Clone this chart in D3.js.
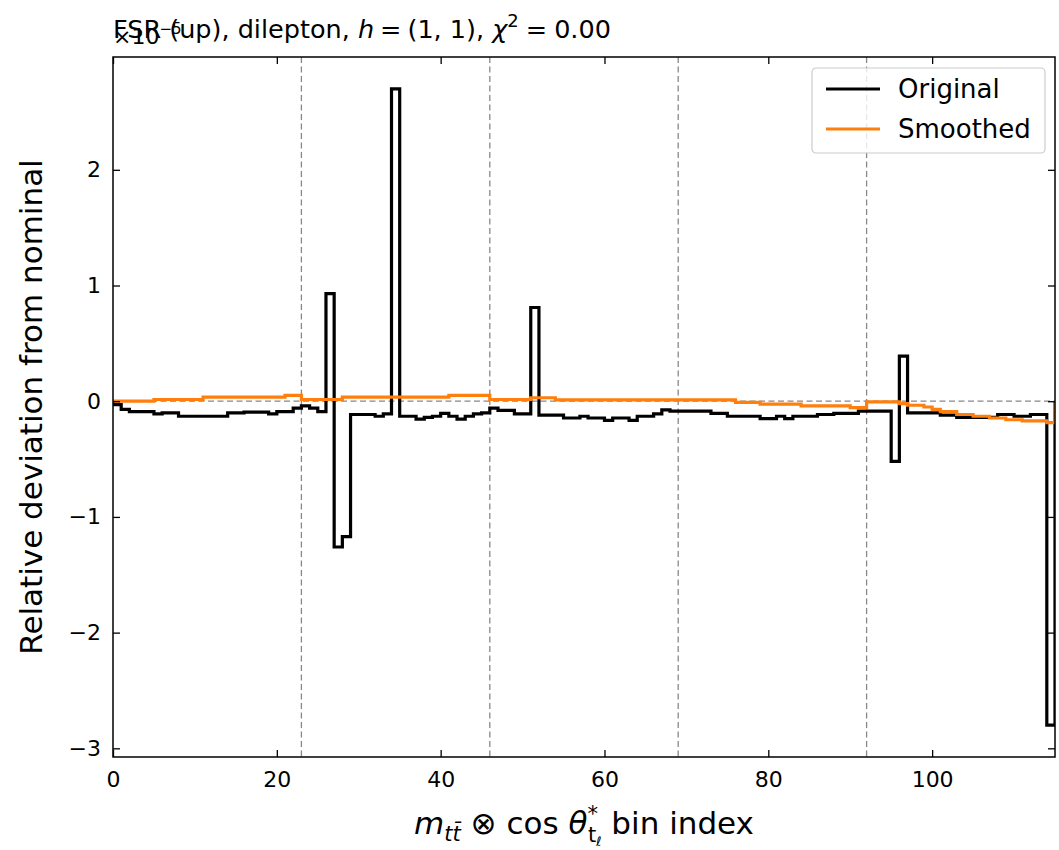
<!DOCTYPE html>
<html>
<head>
<meta charset="utf-8">
<script src="https://cdn.jsdelivr.net/npm/d3@7/dist/d3.min.js"></script>
<style>
  body { margin: 0; background: #fff; }
  svg { font-family: "DejaVu Sans", sans-serif; }
</style>
</head>
<body>
<svg id="chart" width="1059" height="850"></svg>
<script>
// bin values (units of the x10 offset)
var original = [
  -0.03, -0.07, -0.09, -0.09, -0.09, -0.11, -0.10, -0.10, -0.13, -0.13,
  -0.13, -0.13, -0.13, -0.13, -0.10, -0.10, -0.095, -0.095, -0.095, -0.11,
  -0.09, -0.09, -0.06, -0.04, -0.06, -0.09, 0.93, -1.26, -1.17, -0.115,
  -0.115, -0.115, -0.13, -0.11, 2.70, -0.13, -0.13, -0.155, -0.14, -0.13,
  -0.105, -0.13, -0.155, -0.13, -0.11, -0.10, -0.06, -0.08, -0.08, -0.11,
  -0.11, 0.81, -0.12, -0.12, -0.12, -0.145, -0.145, -0.13, -0.145, -0.145,
  -0.165, -0.145, -0.145, -0.165, -0.13, -0.13, -0.11, -0.075, -0.085, -0.085,
  -0.085, -0.085, -0.085, -0.105, -0.105, -0.13, -0.13, -0.13, -0.13, -0.15,
  -0.15, -0.13, -0.15, -0.13, -0.13, -0.13, -0.115, -0.115, -0.105, -0.105,
  -0.105, -0.085, -0.085, -0.085, -0.085, -0.52, 0.39, -0.10, -0.10, -0.10,
  -0.10, -0.12, -0.12, -0.14, -0.14, -0.14, -0.14, -0.14, -0.115, -0.115,
  -0.13, -0.13, -0.115, -0.115, -2.80
];
var smoothed = [
  0.0, 0.0, 0.0, 0.0, 0.0, 0.015, 0.015, 0.015, 0.015, 0.015,
  0.015, 0.035, 0.035, 0.035, 0.035, 0.035, 0.035, 0.035, 0.035, 0.035,
  0.035, 0.05, 0.05, 0.015, 0.015, 0.015, 0.015, 0.015, 0.035, 0.035,
  0.035, 0.035, 0.035, 0.035, 0.035, 0.035, 0.035, 0.035, 0.035, 0.035,
  0.035, 0.05, 0.05, 0.05, 0.05, 0.05, 0.015, 0.015, 0.015, 0.015,
  0.015, 0.03, 0.03, 0.03, 0.012, 0.012, 0.012, 0.012, 0.012, 0.012,
  0.012, 0.012, 0.012, 0.012, 0.012, 0.012, 0.012, 0.012, 0.012, 0.012,
  0.012, 0.012, 0.012, 0.012, 0.012, 0.012, -0.01, -0.01, -0.01, -0.025,
  -0.025, -0.025, -0.025, -0.025, -0.04, -0.04, -0.04, -0.04, -0.04, -0.04,
  -0.055, -0.055, -0.005, -0.005, -0.005, -0.005, -0.02, -0.035, -0.035, -0.05,
  -0.07, -0.09, -0.09, -0.115, -0.115, -0.13, -0.13, -0.145, -0.145, -0.16,
  -0.16, -0.17, -0.17, -0.17, -0.185
];
var groupEdges = [23, 46, 69, 92];
var xTicks = [0, 20, 40, 60, 80, 100];
var yTicks = [-3, -2, -1, 0, 1, 2];
var seriesNames = ["Original", "Smoothed"];
var seriesColors = ["#000000", "#ff7f0e"];

var svg = d3.select("#chart");
// plot box ("top" is taken by window, so short names here)
var pL = 113, pR = 1055, pT = 57, pB = 757;

var nBins = original.length;
var x = d3.scaleLinear().domain([0, nBins]).range([pL, pR]);

// y limits like matplotlib: data range plus 5% margins
var all = original.concat(smoothed);
var lo = d3.min(all), hi = d3.max(all), pad = (hi - lo) * 0.05;
var y = d3.scaleLinear().domain([lo - pad, hi + pad]).range([pB, pT]);

svg.append("clipPath").attr("id", "clip")
  .append("rect").attr("x", pL).attr("y", pT)
  .attr("width", pR - pL).attr("height", pB - pT);

var plot = svg.append("g").attr("clip-path", "url(#clip)");

// zero line and group separators
plot.append("line")
  .attr("x1", pL).attr("x2", pR)
  .attr("y1", y(0)).attr("y2", y(0))
  .attr("stroke", "#888").attr("stroke-width", 1.3).attr("stroke-dasharray", "6,3.5");

plot.selectAll(".sep").data(groupEdges).enter().append("line")
  .attr("x1", function(d) { return x(d); }).attr("x2", function(d) { return x(d); })
  .attr("y1", pT).attr("y2", pB)
  .attr("stroke", "#888").attr("stroke-width", 1.3).attr("stroke-dasharray", "6,3.5");

// step outline: starts and ends on zero
function stepPoints(vals) {
  var pts = [[0, 0]];
  vals.forEach(function(v, i) { pts.push([i, v]); });
  pts.push([vals.length, 0]);
  return pts;
}
var line = d3.line()
  .x(function(d) { return x(d[0]); })
  .y(function(d) { return y(d[1]); })
  .curve(d3.curveStepAfter);

[original, smoothed].forEach(function(vals, k) {
  plot.append("path")
    .attr("d", line(stepPoints(vals)))
    .attr("fill", "none")
    .attr("stroke", seriesColors[k])
    .attr("stroke-width", 3.2)
    .attr("stroke-linejoin", "miter");
});

// axes, ticks pointing inwards on all four sides
function styleAxis(g) {
  g.attr("font-size", 22).attr("font-family", "DejaVu Sans");
  g.selectAll("path.domain").remove();
  g.selectAll("line").attr("stroke", "#000").attr("stroke-width", 1.3);
  g.selectAll("text").attr("fill", "#000");
}
var fmt = function(d) { return d < 0 ? "\u2212" + Math.abs(d) : d; };

svg.append("g").attr("transform", "translate(0," + pB + ")")
  .call(d3.axisBottom(x).tickValues(xTicks).tickSizeInner(-7).tickSizeOuter(0).tickPadding(14))
  .call(styleAxis);
svg.append("g").attr("transform", "translate(0," + pT + ")")
  .call(d3.axisTop(x).tickValues(xTicks).tickSizeInner(-7).tickSizeOuter(0).tickFormat(""))
  .call(styleAxis);
svg.append("g").attr("transform", "translate(" + pL + ",0)")
  .call(d3.axisLeft(y).tickValues(yTicks).tickSizeInner(-7).tickSizeOuter(0).tickPadding(12).tickFormat(fmt))
  .call(styleAxis);
svg.append("g").attr("transform", "translate(" + pR + ",0)")
  .call(d3.axisRight(y).tickValues(yTicks).tickSizeInner(-7).tickSizeOuter(0).tickFormat(""))
  .call(styleAxis);

svg.append("rect")
  .attr("x", pL).attr("y", pT)
  .attr("width", pR - pL).attr("height", pB - pT)
  .attr("fill", "none").attr("stroke", "#000").attr("stroke-width", 1.5);

// title and offset text (they overlap in the original)
var title = svg.append("text").attr("x", pL).attr("y", 38)
  .attr("font-size", 25.5).attr("fill", "#000");
title.append("tspan").text("FSR (up), dilepton, ");
title.append("tspan").attr("font-style", "italic").text("h");
title.append("tspan").attr("dx", 6).text("=");
title.append("tspan").attr("dx", 6).text("(1, 1), ");
title.append("tspan").attr("font-style", "italic").text("\u03c7");
title.append("tspan").attr("font-size", 18).attr("dy", -11).text("2");
title.append("tspan").attr("dy", 11).attr("dx", 7).text("=");
title.append("tspan").attr("dx", 7).text("0.00");

var off = svg.append("text").attr("x", pL).attr("y", 44)
  .attr("font-size", 22).attr("fill", "#000");
off.append("tspan").text("\u00d710");
off.append("tspan").attr("font-size", 15).attr("dy", -10).text("\u22125");

// axis labels
svg.append("text")
  .attr("transform", "translate(42," + ((pT + pB) / 2) + ") rotate(-90)")
  .attr("text-anchor", "middle").attr("font-size", 31).attr("fill", "#000")
  .text("Relative deviation from nominal");

var xl = svg.append("text").attr("x", (pL + pR) / 2).attr("y", 834)
  .attr("text-anchor", "middle").attr("font-size", 31).attr("fill", "#000");
xl.append("tspan").attr("font-style", "italic").text("m");
xl.append("tspan").attr("font-style", "italic").attr("font-size", 21).attr("dy", 7).text("t\u0074\u0304");
xl.append("tspan").attr("dy", -7).text(" \u2297 cos ");
xl.append("tspan").attr("font-style", "italic").text("\u03b8");
xl.append("tspan").attr("font-size", 21).attr("dy", -13).text("*");
xl.append("tspan").attr("font-size", 21).attr("dx", -10).attr("dy", 21).text("t");
xl.append("tspan").attr("font-size", 13).attr("font-style", "italic").attr("dy", 4).text("\u2113");
xl.append("tspan").attr("dy", -12).text(" bin index");

// legend
var lg = svg.append("g").attr("transform", "translate(812,68)");
lg.append("rect").attr("width", 233).attr("height", 85).attr("rx", 4)
  .attr("fill", "#fff").attr("fill-opacity", 0.8).attr("stroke", "#ccc").attr("stroke-width", 1.2);
seriesNames.forEach(function(name, i) {
  var row = lg.append("g").attr("transform", "translate(0," + (21 + i * 40) + ")");
  row.append("line").attr("x1", 14).attr("x2", 68)
    .attr("stroke", seriesColors[i]).attr("stroke-width", 3);
  row.append("text").attr("x", 86).attr("y", 9)
    .attr("font-size", 26).attr("fill", "#000").text(name);
});
</script>
</body>
</html>
